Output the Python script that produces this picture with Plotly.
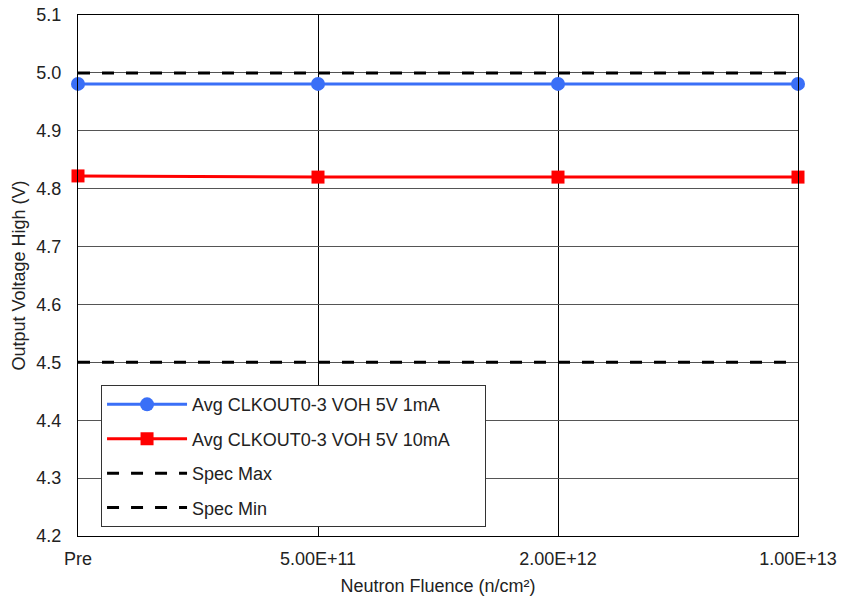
import plotly.graph_objects as go

categories = ["Pre", "5.00E+11", "2.00E+12", "1.00E+13"]
voh_1ma = [4.981, 4.981, 4.981, 4.981]
voh_10ma = [4.822, 4.820, 4.820, 4.820]
spec_max = [5.0, 5.0, 5.0, 5.0]
spec_min = [4.5, 4.5, 4.5, 4.5]
y_ticks = [4.2, 4.3, 4.4, 4.5, 4.6, 4.7, 4.8, 4.9, 5.0, 5.1]

xpos = list(range(len(categories)))
font = "Liberation Sans, Arial, sans-serif"
FS = 18
PAD = "\u00a0" * 6

fig = go.Figure()
fig.add_trace(go.Scatter(x=xpos, y=voh_1ma, mode="lines+markers",
                         name="Avg CLKOUT0-3 VOH 5V 1mA", legendgroup="a",
                         line=dict(color="#3a6ff7", width=3),
                         marker=dict(symbol="circle", size=14, color="#3a6ff7"),
                         cliponaxis=False))
fig.add_trace(go.Scatter(x=xpos, y=voh_10ma, mode="lines+markers",
                         name="Avg CLKOUT0-3 VOH 5V 10mA" + PAD, legendgroup="b",
                         line=dict(color="#ff0000", width=3),
                         marker=dict(symbol="square", size=13, color="#ff0000"),
                         cliponaxis=False))
fig.add_trace(go.Scatter(x=xpos, y=spec_max, mode="lines", name="Spec Max", legendgroup="c",
                         line=dict(color="black", width=3, dash="12px,12px")))
fig.add_trace(go.Scatter(x=xpos, y=spec_min, mode="lines", name="Spec Min", legendgroup="d",
                         line=dict(color="black", width=3, dash="12px,12px")))

fig.update_layout(
    width=841, height=598,
    margin=dict(l=78, r=43, t=15, b=62),
    paper_bgcolor="white", plot_bgcolor="white",
    font=dict(family=font, size=FS, color="#222"),
    showlegend=True,
    legend=dict(x=0.032, y=0.017, xanchor="left", yanchor="bottom",
                bgcolor="white", bordercolor="#333", borderwidth=1,
                font=dict(size=FS, family=font, color="#222"),
                traceorder="grouped", tracegroupgap=8, itemwidth=80),
)
fig.update_xaxes(range=[0, 3], tickvals=xpos, ticktext=categories,
                 showgrid=True, gridcolor="black", gridwidth=1,
                 showline=True, linecolor="black", linewidth=1, mirror=True,
                 ticks="", zeroline=False, automargin=False, ticklabelstandoff=6,
                 tickfont=dict(size=FS, family=font),
                 title=dict(text="Neutron Fluence (n/cm²)", standoff=11,
                            font=dict(size=FS, family=font)))
fig.update_yaxes(range=[4.2, 5.1], tickvals=y_ticks,
                 ticktext=[f"{v:.1f}" for v in y_ticks],
                 showgrid=True, gridcolor="#555", gridwidth=1,
                 showline=True, linecolor="black", linewidth=1, mirror=True,
                 ticks="", zeroline=False, automargin=False, ticklabelstandoff=12,
                 tickfont=dict(size=FS, family=font),
                 title=dict(text="Output Voltage High (V)", standoff=6,
                            font=dict(size=FS, family=font)))

fig.write_html("out.html")
